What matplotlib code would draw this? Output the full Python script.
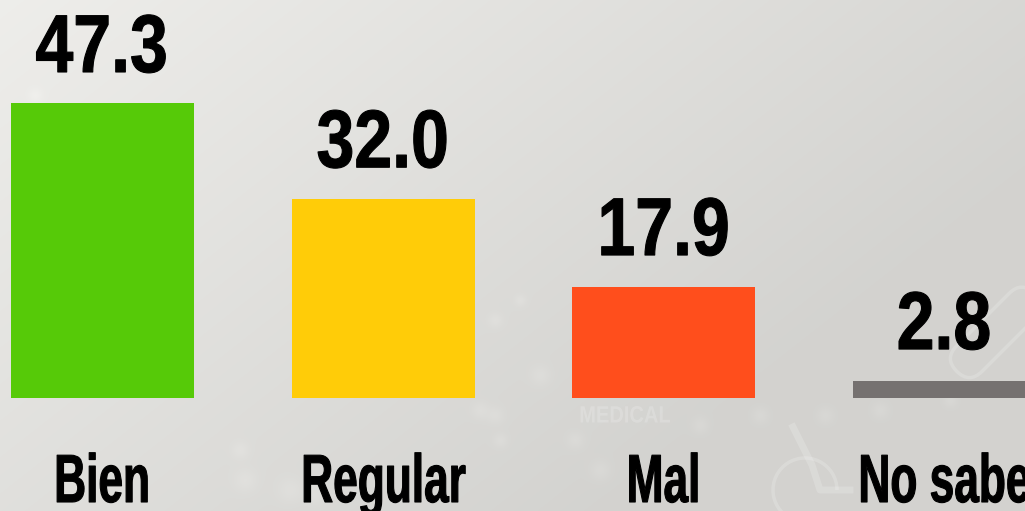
import matplotlib
matplotlib.use("Agg")
import matplotlib.pyplot as plt
import matplotlib.patheffects as pe
from matplotlib.patches import Arc, FancyBboxPatch
from matplotlib.transforms import Affine2D
import numpy as np

categories = ["Bien", "Regular", "Mal", "No sabe"]
values = [47.3, 32.0, 17.9, 2.8]
labels = ["47.3", "32.0", "17.9", "2.8"]
colors = ["#56CA08", "#FFCC08", "#FF4E1C", "#757170"]

# faint spots of the backdrop: x px, y px, radius px
spot_x = [495, 520, 540, 495, 575, 600, 640, 700, 760, 240, 245, 290, 315, 480, 500, 825, 880, 950, 35]
spot_y = [320, 300, 375, 415, 440, 470, 495, 425, 415, 450, 480, 490, 495, 410, 440, 415, 410, 400, 95]
spot_r = [5, 4, 7, 6, 6, 7, 5, 6, 6, 6, 8, 9, 7, 6, 5, 6, 6, 5, 5]

W, H = 1025, 511


class Squeeze(pe.AbstractPathEffect):
    # narrows text sideways around its centre, the fonts here have no such condensed cut
    def __init__(self, scale, stroke=0):
        super().__init__()
        self.scale = scale
        self.stroke = stroke

    def draw_path(self, renderer, gc, tpath, affine, rgbFace=None):
        ext = tpath.get_extents(affine)
        cx = (ext.x0 + ext.x1) / 2
        squeeze = Affine2D().translate(-cx, 0).scale(self.scale, 1).translate(cx, 0)
        gc0 = renderer.new_gc()
        gc0.copy_properties(gc)
        gc0.set_foreground("black")
        gc0.set_linewidth(self.stroke)
        renderer.draw_path(gc0, tpath, affine + squeeze, rgbFace)
        gc0.restore()


fig = plt.figure(figsize=(W / 100, H / 100), dpi=100)

# backdrop: light at the top left, darker to the right, with soft spots
bg = fig.add_axes([0, 0, 1, 1])
bg.axis("off")
yy, xx = np.mgrid[0:H, 0:W]
grey = np.maximum(238 - 22 * (xx / W) - 14 * (yy / H), 211)
for sx, sy, sr in zip(spot_x, spot_y, spot_r):
    grey += 5 * np.exp(-((xx - sx) ** 2 + (yy - sy) ** 2) / (2.0 * sr ** 2))
rgb = np.dstack([grey, grey - 0.5, grey - 3.5]).clip(0, 255) / 255
bg.imshow(rgb, aspect="auto", extent=[0, W, H, 0])

# faint watermark left in the backdrop
bg.text(625, 416, "MEDICAL", ha="center", va="center", fontsize=17, fontweight="bold", color="white",
        alpha=0.18, family="Liberation Sans", path_effects=[Squeeze(0.85)])
bg.add_patch(Arc((805, 490), 64, 64, theta1=100, theta2=360, color="white", alpha=0.18, lw=2.5))
bg.plot([793, 812, 820, 850], [427, 465, 490, 490], color="white", alpha=0.18, lw=5)
bg.add_patch(FancyBboxPatch((945, 325), 110, 36, boxstyle="round,pad=0,rounding_size=18",
                            fc="none", ec="white", alpha=0.18, lw=2.5,
                            transform=Affine2D().rotate_deg_around(985, 343, -45) + bg.transData))
bg.set_xlim(0, W)
bg.set_ylim(H, 0)

# value 0 sits at pixel 398
ax = fig.add_axes([0, 0, 1, 1])
ax.patch.set_alpha(0)
ax.axis("off")
ax.set_xlim(0, W)
px_per_unit = (398 - 103.5) / 47.3
ax.set_ylim(-(H - 398) / px_per_unit, 398 / px_per_unit)

x = [102, 383, 663.5, 944]
ax.bar(x, values, width=183, color=colors)

for xi, v, lab in zip(x, values, labels):
    ax.text(xi, v + 31.5 / px_per_unit, lab, ha="center", va="baseline", fontsize=59,
            fontweight="bold", family="Liberation Sans", color="black",
            path_effects=[Squeeze(0.83, stroke=0.8)])
for xi, c in zip(x, categories):
    ax.text(xi, -104 / px_per_unit, c, ha="center", va="baseline", fontsize=49,
            fontweight="bold", family="Liberation Sans", color="black",
            path_effects=[Squeeze(0.65, stroke=0.8)])

fig.savefig("out.png", dpi=100)
